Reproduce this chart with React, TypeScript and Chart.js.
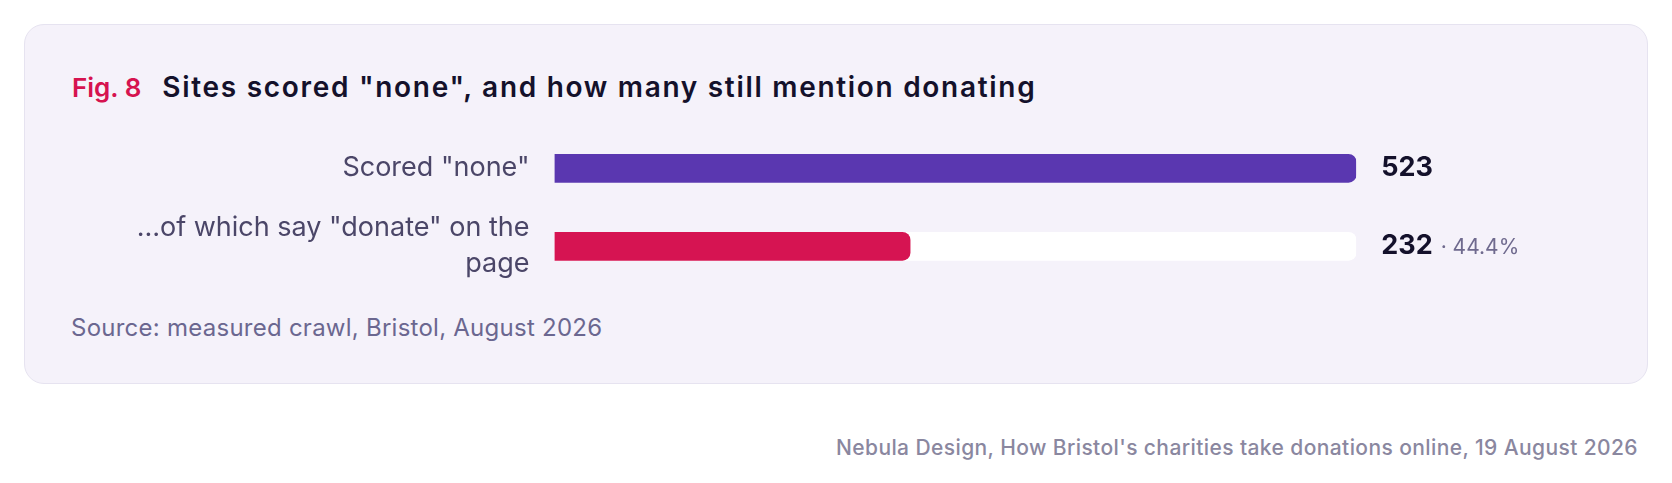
import React, { useEffect, useRef } from "react";
import { Chart, registerables } from "chart.js";

Chart.register(...registerables);

const categories: (string | string[])[] = [
  'Scored "none"',
  ['…of which say "donate" on the', "page"],
];
const values = [523, 232];
const trackValues = [523, 523];
const barColors = ["#5a37b0", "#d61452"];
const axisMax = 523;

const FONT = "Inter, 'Noto Sans', sans-serif";

const valueLabelPlugin = {
  id: "valueLabels",
  afterDatasetsDraw(chart: any) {
    const meta = chart.getDatasetMeta(0);
    const ctx = chart.ctx;
    const { right } = chart.chartArea;
    ctx.save();
    ctx.textBaseline = "middle";
    ctx.textAlign = "left";
    meta.data.forEach((el: any, i: number) => {
      const x = right + 25;
      const y = el.y;
      const v = values[i];
      ctx.font = `700 27px ${FONT}`;
      ctx.fillStyle = "#14112b";
      ctx.fillText(String(v), x, y);
      if (i > 0) {
        const w = ctx.measureText(String(v)).width;
        const pct = ((v / values[0]) * 100).toFixed(1) + "%";
        ctx.font = `400 21px ${FONT}`;
        ctx.fillStyle = "#6f6a8e";
        ctx.fillText("· " + pct, x + w + 8, y + 1);
      }
    });
    ctx.restore();
  },
};

function BarChart() {
  const ref = useRef<HTMLCanvasElement>(null);
  useEffect(() => {
    if (!ref.current) return;
    const chart = new Chart(ref.current, {
      type: "bar",
      data: {
        labels: categories as any,
        datasets: [
          {
            data: values,
            backgroundColor: barColors,
            barThickness: 28,
            grouped: false,
            order: 1,
            borderSkipped: "start",
            borderRadius: { topLeft: 0, bottomLeft: 0, topRight: 8, bottomRight: 8 },
          } as any,
          {
            data: trackValues,
            backgroundColor: "#ffffff",
            barThickness: 28,
            grouped: false,
            order: 2,
            borderSkipped: "start",
            borderRadius: { topLeft: 0, bottomLeft: 0, topRight: 8, bottomRight: 8 },
          } as any,
        ],
      },
      options: {
        animation: false,
        responsive: false,
        indexAxis: "y",
        layout: { padding: { top: 14.3, bottom: 19.7, left: 0, right: 287.8 } },
        plugins: {
          legend: { display: false },
          tooltip: { enabled: false },
          title: { display: false },
        },
        scales: {
          x: { display: false, min: 0, max: axisMax },
          y: {
            grid: { display: false, drawTicks: false },
            border: { display: false },
            ticks: {
              padding: 25,
              color: "#4b4668",
              font: { family: FONT, size: 27, weight: 400, lineHeight: 1.333 },
            },
            afterFit: (s: any) => {
              s.width = 529.5;
              s.paddingTop = 0;
              s.paddingBottom = 0;
            },
          },
        },
      } as any,
      plugins: [valueLabelPlugin],
    });
    return () => chart.destroy();
  }, []);
  return <canvas ref={ref} width={1619} height={190} style={{ display: "block" }} />;
}

export default function App() {
  return (
    <div style={{ padding: 16, fontFamily: FONT }}>
      <div
        style={{
          position: "relative",
          height: 360,
          boxSizing: "border-box",
          border: "1.5px solid #e6e3f0",
          borderRadius: 20,
          background: "#f5f2fa",
        }}
      >
        <div
          style={{
            position: "absolute",
            left: 47,
            top: 43.5,
            lineHeight: "36px",
            fontSize: 26,
            fontWeight: 600,
            color: "#14112b",
            whiteSpace: "nowrap",
          }}
        >
          <span style={{ color: "#d6134f", marginRight: 21 }}>Fig. 8</span>
          <span style={{ fontSize: 28, letterSpacing: "1.7px" }}>
            Sites scored "none", and how many still mention donating
          </span>
        </div>
        <div style={{ position: "absolute", left: 0, top: 90 }}>
          <BarChart />
        </div>
        <div
          style={{
            position: "absolute",
            left: 46,
            top: 287.5,
            lineHeight: "30px",
            fontSize: 24,
            letterSpacing: "0.25px",
            color: "#6b6790",
            whiteSpace: "nowrap",
          }}
        >
          Source: measured crawl, Bristol, August 2026
        </div>
      </div>
      <div
        style={{
          textAlign: "right",
          marginTop: 50,
          marginRight: 10,
          fontSize: 21,
          letterSpacing: "0.4px",
          fontWeight: 500,
          lineHeight: "28px",
          color: "#8a879f",
        }}
      >
        Nebula Design, How Bristol's charities take donations online, 19 August 2026
      </div>
    </div>
  );
}
